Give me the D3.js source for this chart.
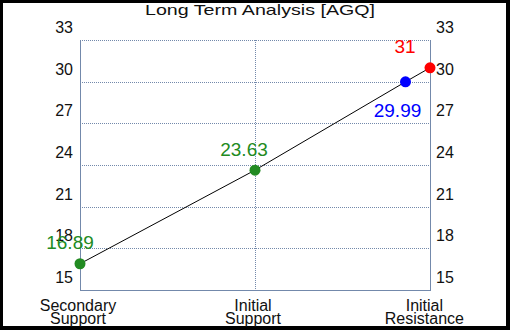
<!DOCTYPE html>
<html>
<head>
<meta charset="utf-8">
<script src="https://cdn.jsdelivr.net/npm/d3@7"></script>
<style>
  body { margin: 0; background: #000; }
  svg { display: block; font-family: 'Liberation Sans', Arial, sans-serif; }
</style>
</head>
<body>
<div id="chart"></div>
<script>
// ----------------------------------------------------------------------------
// DATA
// ----------------------------------------------------------------------------
const title = 'Long Term Analysis [AGQ]';
const categories = [['Secondary', 'Support'], ['Initial', 'Support'], ['Initial', 'Resistance']];
const categoryPos = [0, 1, 2];
const yTicks = [15, 18, 21, 24, 27, 30, 33];
const pointPos = [0, 1, 1.86, 2];
const pointValues = [16.89, 23.63, 29.99, 31];
const pointLabels = ['16.89', '23.63', '29.99', '31'];
const pointColors = ['#228b22', '#228b22', '#0000ff', '#ff0000'];
// label offsets from each point: [dx, dy]
const labelOffsets = [[-10, -15], [-11, -14], [-8, 35], [-25, -15]];

const W = 510;
const H = 330;
const margin = { top: 40, right: 80, bottom: 40, left: 80 };
const axisColor = '#7389ab';

const svg = d3.select('#chart').append('svg')
  .attr('width', W)
  .attr('height', H);

// black frame + white background
svg.append('rect').attr('width', W).attr('height', H).attr('fill', '#000');
svg.append('rect').attr('x', 3).attr('y', 3).attr('width', W - 7).attr('height', H - 7).attr('fill', '#fff');

const x = d3.scaleLinear().domain([0, 2]).range([margin.left, W - margin.right]);
const y = d3.scaleLinear().domain([15, 33]).range([H - margin.bottom, margin.top]);

// ----------------------------------------------------------------------------
// GRID
// ----------------------------------------------------------------------------
svg.append('g')
  .selectAll('line')
  .data(yTicks.slice(1))
  .enter().append('line')
    .attr('x1', x(0)).attr('x2', x(2))
    .attr('y1', d => Math.round(y(d)) + 0.5).attr('y2', d => Math.round(y(d)) + 0.5)
    .attr('stroke', axisColor)
    .attr('stroke-dasharray', '1,1');

svg.append('line')
  .attr('x1', Math.round(x(1)) + 0.5).attr('x2', Math.round(x(1)) + 0.5)
  .attr('y1', y(33)).attr('y2', y(15))
  .attr('stroke', axisColor)
  .attr('stroke-dasharray', '1,1');

// solid axes: left, right, bottom
const axes = svg.append('g').attr('stroke', axisColor).attr('fill', 'none');
axes.append('line')
  .attr('x1', Math.round(x(0)) + 0.5).attr('x2', Math.round(x(0)) + 0.5)
  .attr('y1', y(33)).attr('y2', y(15) + 0.5);
axes.append('line')
  .attr('x1', Math.round(x(2)) + 0.5).attr('x2', Math.round(x(2)) + 0.5)
  .attr('y1', y(33)).attr('y2', y(15) + 0.5);
axes.append('line')
  .attr('x1', x(0)).attr('x2', x(2) + 1)
  .attr('y1', Math.round(y(15)) + 0.5).attr('y2', Math.round(y(15)) + 0.5);

// ----------------------------------------------------------------------------
// TICK LABELS
// ----------------------------------------------------------------------------
svg.append('g')
  .selectAll('text')
  .data(yTicks)
  .enter().append('text')
    .attr('x', x(0) - 7)
    .attr('y', d => y(d) - 7)
    .attr('text-anchor', 'end')
    .attr('font-size', 16)
    .attr('fill', '#111')
    .text(d => d);

svg.append('g')
  .selectAll('text')
  .data(yTicks)
  .enter().append('text')
    .attr('x', x(2) + 6)
    .attr('y', d => y(d) - 7)
    .attr('text-anchor', 'start')
    .attr('font-size', 16)
    .attr('fill', '#111')
    .text(d => d);

const catText = svg.append('g')
  .selectAll('text')
  .data(categories)
  .enter().append('text')
    .attr('text-anchor', 'middle')
    .attr('font-size', 16)
    .attr('fill', '#111');

catText.each(function (d, i) {
  const t = d3.select(this);
  let cx = x(categoryPos[i]) - 2;
  d.forEach((line, j) => {
    t.append('tspan').attr('x', cx).attr('y', 311 + j * 13).text(line);
  });
  // keep the label inside the frame
  const w = this.getBBox().width;
  if (cx + w / 2 > 464) {
    cx = 464 - w / 2;
    t.selectAll('tspan').attr('x', cx);
  }
});

svg.append('text')
  .attr('x', 145)
  .attr('y', 15)
  .attr('font-size', 15)
  .attr('fill', '#111')
  .attr('textLength', 230)
  .attr('lengthAdjust', 'spacingAndGlyphs')
  .text(title);

// ----------------------------------------------------------------------------
// LINE + POINTS
// ----------------------------------------------------------------------------
const points = pointValues.map((v, i) => ({ x: pointPos[i], v, label: pointLabels[i], color: pointColors[i], off: labelOffsets[i] }));

svg.append('path')
  .datum(points)
  .attr('fill', 'none')
  .attr('stroke', '#000')
  .attr('stroke-width', 1)
  .attr('d', d3.line().x(d => x(d.x)).y(d => y(d.v)));

svg.append('g')
  .selectAll('circle')
  .data(points)
  .enter().append('circle')
    .attr('cx', d => x(d.x))
    .attr('cy', d => y(d.v))
    .attr('r', 5.5)
    .attr('fill', d => d.color);

svg.append('g')
  .selectAll('text')
  .data(points)
  .enter().append('text')
    .attr('x', d => x(d.x) + d.off[0])
    .attr('y', d => y(d.v) + d.off[1])
    .attr('text-anchor', 'middle')
    .attr('font-size', 19)
    .attr('fill', d => d.color)
    .text(d => d.label);
</script>
</body>
</html>
